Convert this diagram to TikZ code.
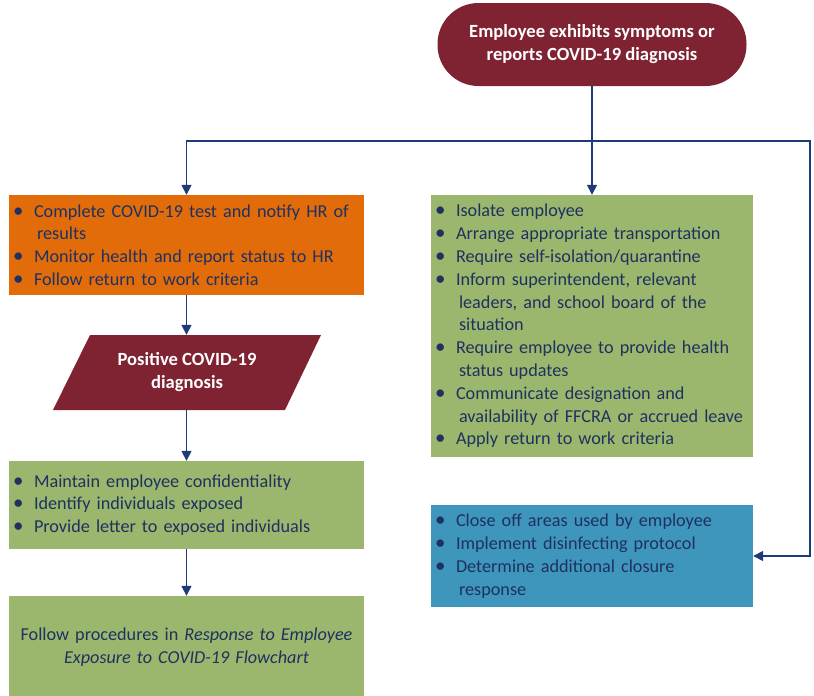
\documentclass[tikz,border=0pt]{standalone}
\usepackage{fontspec}
\setmainfont{Carlito}
\usetikzlibrary{arrows.meta}
\definecolor{dred}{HTML}{7F2333}
\definecolor{orangebox}{HTML}{E36C0A}
\definecolor{greenbox}{HTML}{9BB76D}
\definecolor{bluebox}{HTML}{3F96BC}
\definecolor{navytext}{HTML}{1F3160}
\definecolor{navyline}{HTML}{1F3A78}
\newcommand\bl[1]{\makebox[21pt][l]{\scalebox{1.15}{\textbullet}}#1}
\newcommand\cl[1]{\hspace*{24pt}#1}
\begin{document}
\begin{tikzpicture}[x=1pt,y=-1pt,
  txt/.style={font=\fontsize{18.2}{22.8}\selectfont, text=navytext},
  box/.style={txt, inner xsep=4pt, inner ysep=0pt, align=left},
  leftbox/.style={box, text width=347pt, minimum width=355pt},
  rightbox/.style={box, text width=314pt, minimum width=322pt},
  whitetxt/.style={font=\fontsize{18.6}{23}\selectfont\bfseries, text=white, align=center},
  arr/.style={draw=navyline, line width=1.6pt, -{Triangle[width=10pt,length=10pt]}},
  ln/.style={draw=navyline, line width=1.6pt}]
\useasboundingbox (0,0) rectangle (814,696);

% start terminal
\node[whitetxt, fill=dred, rounded corners=41pt, minimum width=309pt, minimum height=83pt, inner sep=0pt] (top) at (592,44.5) {Employee exhibits symptoms or\\reports COVID-19 diagnosis};

% orange box
\node[leftbox, fill=orangebox, minimum height=100pt] (orange) at (186.5,245) {%
\bl{Complete COVID-19 test and notify HR of}\\
\cl{results}\\
\bl{Monitor health and report status to HR}\\
\bl{Follow return to work criteria}};

% parallelogram
\fill[dred] (90,335) -- (321,335) -- (285,410) -- (53,410) -- cycle;
\node[whitetxt, minimum height=75pt, minimum width=200pt, inner sep=0pt] (pos) at (187,372.5) {Positive COVID-19\\diagnosis};

% green box 2
\node[leftbox, fill=greenbox, minimum height=88pt] (conf) at (186.5,505) {%
\bl{Maintain employee confidentiality}\\
\bl{Identify individuals exposed}\\
\bl{Provide letter to exposed individuals}};

% green box 3
\node[box, text width=347pt, minimum width=355pt, align=center, fill=greenbox, minimum height=102pt] (follow) at (186.5,647) {%
Follow procedures in \textit{Response to Employee}\\
\textit{Exposure to COVID-19 Flowchart}};

% right green box
\node[rightbox, fill=greenbox, minimum height=262pt] (iso) at (592,326) {%
\bl{Isolate employee}\\
\bl{Arrange appropriate transportation}\\
\bl{Require self-isolation/quarantine}\\
\bl{Inform superintendent, relevant}\\
\cl{leaders, and school board of the}\\
\cl{situation}\\
\bl{Require employee to provide health}\\
\cl{status updates}\\
\bl{Communicate designation and}\\
\cl{availability of FFCRA or accrued leave}\\
\bl{Apply return to work criteria}};

% blue box
\node[rightbox, fill=bluebox, minimum height=102pt] (close) at (592,556) {%
\bl{Close off areas used by employee}\\
\bl{Implement disinfecting protocol}\\
\bl{Determine additional closure}\\
\cl{response}};

% connectors
\coordinate (j) at (top.south |- 0,141);
\coordinate (rt) at (810,141);
\draw[arr] (top.south) -- (iso.north);
\draw[arr] (j) -| (orange.north);
\draw[arr] (j) -- (rt) |- (close.east);
\draw[arr] (orange.south) -- (orange.south |- pos.north);
\draw[arr] (orange.south |- pos.south) -- (conf.north);
\draw[arr] (conf.south) -- (follow.north);
\end{tikzpicture}
\end{document}
